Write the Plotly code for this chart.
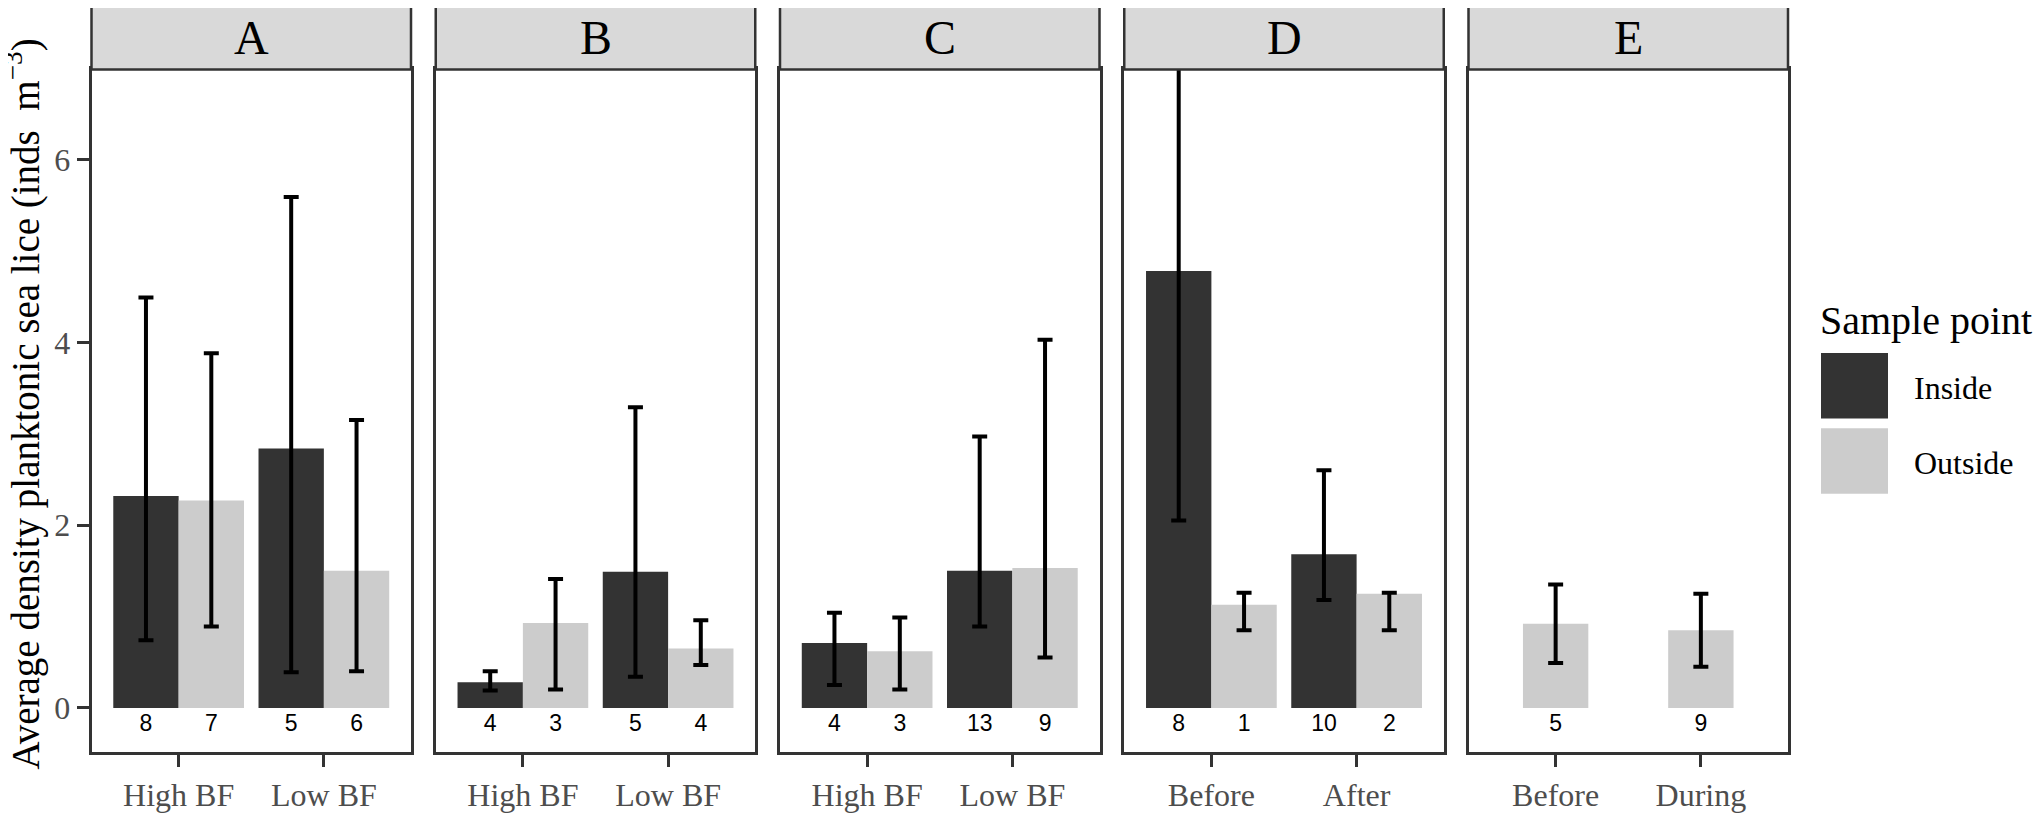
import plotly.graph_objects as go

# ---------------- data ----------------
panels = ["A", "B", "C", "D", "E"]
categories = [
    ["High BF", "Low BF"],
    ["High BF", "Low BF"],
    ["High BF", "Low BF"],
    ["Before", "After"],
    ["Before", "During"],
]
inside_mean = [[2.32, 2.84], [0.28, 1.49], [0.71, 1.50], [4.78, 1.68], [None, None]]
inside_upper = [[4.49, 5.59], [0.40, 3.29], [1.04, 2.97], [7.50, 2.60], [None, None]]
inside_lower = [[0.74, 0.39], [0.19, 0.34], [0.25, 0.89], [2.05, 1.18], [None, None]]
inside_n = [[8, 5], [4, 5], [4, 13], [8, 10], [None, None]]

outside_mean = [[2.27, 1.50], [0.93, 0.65], [0.62, 1.53], [1.13, 1.25], [0.92, 0.85]]
outside_upper = [[3.88, 3.15], [1.41, 0.96], [0.99, 4.03], [1.26, 1.26], [1.35, 1.25]]
outside_lower = [[0.89, 0.40], [0.20, 0.47], [0.20, 0.55], [0.85, 0.85], [0.49, 0.45]]
outside_n = [[7, 6], [3, 4], [3, 9], [1, 2], [5, 9]]

y_ticks = [0, 2, 4, 6]
legend_labels = ["Inside", "Outside"]
colors = {"Inside": "#333333", "Outside": "#CCCCCC"}

# ---------------- layout geometry (pixels of the 2043x813 window) ----------------
OFF = 8                      # page body margin offset
W, H = 2043 - OFF, 813 - OFF
panel_left0, panel_w, panel_step = 91.5, 319.5, 344.25
panel_top, panel_bottom = 70, 759
strip_top = 5
dodge = 0.225
bar_w = 0.45
SERIF = "Liberation Serif, Times New Roman, serif"
SANS = "Liberation Sans, Arial, sans-serif"
BORDER = "#333333"


def fx(px):
    return (px - OFF) / W


def fy(py):
    return 1 - (py - OFF) / H


fig = go.Figure()
shapes = []
annotations = []

for p, name in enumerate(panels):
    ax = "" if p == 0 else str(p + 1)
    xref, yref = "x" + ax, "y" + ax
    cats = categories[p]
    pos = list(range(1, len(cats) + 1))
    has_inside = any(v is not None for v in inside_mean[p])

    groups = [("Inside", inside_mean[p], inside_upper[p], inside_lower[p], inside_n[p], -dodge),
              ("Outside", outside_mean[p], outside_upper[p], outside_lower[p], outside_n[p], dodge)]
    for g, mean, up, lo, n, off in groups:
        if all(v is None for v in mean):
            continue
        shift = off if has_inside else 0.0
        xs = [c + shift for c in pos]
        fig.add_trace(go.Bar(
            x=xs, y=mean, width=bar_w, xaxis=xref, yaxis=yref,
            marker=dict(color=colors[g], line=dict(width=0)),
            error_y=dict(type="data", symmetric=False,
                         array=[u - m for u, m in zip(up, mean)],
                         arrayminus=[m - l for m, l in zip(mean, lo)],
                         color="black", thickness=4, width=7.5),
            name=g, showlegend=False, hoverinfo="y",
        ))
        fig.add_trace(go.Scatter(
            x=xs, y=[-0.19] * len(xs), mode="text", text=[str(v) for v in n],
            textfont=dict(family=SANS, size=23, color="black"),
            xaxis=xref, yaxis=yref, showlegend=False, hoverinfo="skip",
        ))

    left = panel_left0 + p * panel_step
    right = left + panel_w
    xa = dict(domain=[fx(left), fx(right)], range=[0.4, 2.6],
              tickvals=pos, ticktext=cats, ticks="outside", ticklen=12, tickwidth=2.5,
              tickcolor=BORDER, showline=True, mirror=True, linecolor=BORDER, linewidth=2.5,
              showgrid=False, zeroline=False, anchor=yref,
              tickfont=dict(family=SERIF, size=32, color="#4D4D4D"), fixedrange=True)
    ya = dict(domain=[fy(panel_bottom), fy(panel_top)], range=[-0.488, 6.987],
              showline=True, mirror=True, linecolor=BORDER, linewidth=2.5,
              showgrid=False, zeroline=False, anchor=xref, fixedrange=True)
    if p == 0:
        ya.update(tickvals=y_ticks, ticks="outside", ticklen=12, tickwidth=2.5, tickcolor=BORDER,
                  tickfont=dict(family=SERIF, size=32, color="#4D4D4D"), showticklabels=True)
    else:
        ya.update(showticklabels=False, ticks="")
    fig.update_layout(**{"xaxis" + ax: xa, "yaxis" + ax: ya})

    # facet strip
    shapes.append(dict(type="rect", xref="paper", yref="paper",
                       x0=fx(left), x1=fx(right), y0=fy(panel_top), y1=fy(strip_top),
                       fillcolor="#D9D9D9", line=dict(color=BORDER, width=2.5), layer="above"))
    annotations.append(dict(xref="paper", yref="paper", x=fx((left + right) / 2),
                            y=fy((panel_top + strip_top) / 2), text=name, showarrow=False,
                            xanchor="center", yanchor="middle",
                            font=dict(family=SERIF, size=48, color="black")))

# y axis title
annotations.append(dict(xref="paper", yref="paper", x=fx(23), y=fy(408),
                        text="Average density planktonic sea lice (inds  m<sup>−3</sup>)",
                        textangle=-90, showarrow=False, xanchor="center", yanchor="middle",
                        font=dict(family=SERIF, size=39, color="black")))

# legend (drawn manually to match large square keys)
annotations.append(dict(xref="paper", yref="paper", x=fx(1818), y=fy(323),
                        text="Sample point", showarrow=False, xanchor="left", yanchor="middle",
                        font=dict(family=SERIF, size=40, color="black")))
key_tops = [356, 432]
for lab, kt in zip(legend_labels, key_tops):
    shapes.append(dict(type="rect", xref="paper", yref="paper",
                       x0=fx(1821), x1=fx(1888), y0=fy(kt + 66), y1=fy(kt),
                       fillcolor=colors[lab], line=dict(width=0)))
    annotations.append(dict(xref="paper", yref="paper", x=fx(1912), y=fy(kt + 35),
                            text=lab, showarrow=False, xanchor="left", yanchor="middle",
                            font=dict(family=SERIF, size=32, color="black")))

fig.update_layout(
    width=W, height=H, margin=dict(l=0, r=0, t=0, b=0),
    paper_bgcolor="white", plot_bgcolor="white",
    barmode="overlay", showlegend=False,
    shapes=shapes, annotations=annotations,
)

fig.write_html("out.html")
